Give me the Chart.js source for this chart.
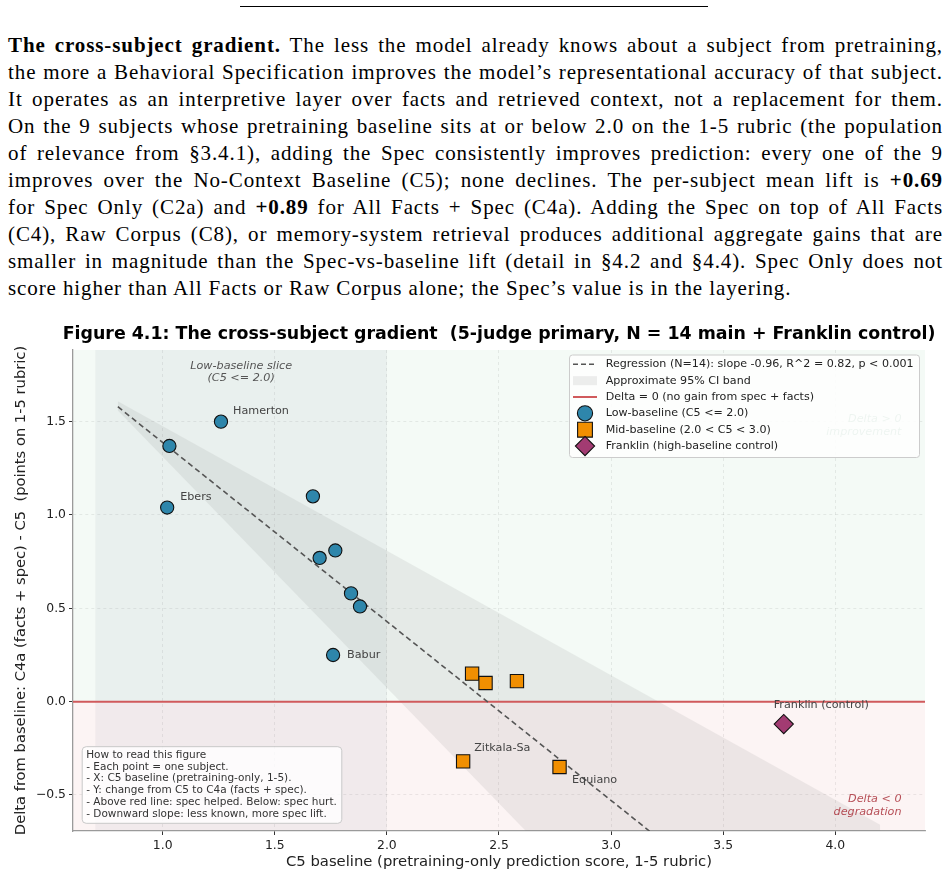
<!DOCTYPE html>
<html>
<head>
<meta charset="utf-8">
<script src="https://cdn.jsdelivr.net/npm/chart.js@4.4.1/dist/chart.umd.min.js"></script>
<style>
  html, body { margin: 0; padding: 0; background: #fff; width: 951px; height: 879px; overflow: hidden; }
  #rule { position: absolute; left: 240px; top: 6px; width: 468px; border-top: 1px solid #000; }
  #para { position: absolute; left: 8px; top: 32px; width: 935px; font-family: "Liberation Serif", serif;
          font-size: 21px; letter-spacing: 0.9px; color: #000; }
  #para div { height: 27px; line-height: 27px; text-align: justify; text-align-last: justify; }
  #para div.last { text-align-last: left; }
  #wrap { position: absolute; left: 0; top: 318px; width: 951px; height: 561px; }
</style>
</head>
<body>
<div id="rule"></div>
<div id="para">
  <div><b>The cross-subject gradient.</b> The less the model already knows about a subject from pretraining,</div>
  <div>the more a Behavioral Specification improves the model’s representational accuracy of that subject.</div>
  <div>It operates as an interpretive layer over facts and retrieved context, not a replacement for them.</div>
  <div>On the 9 subjects whose pretraining baseline sits at or below 2.0 on the 1-5 rubric (the population</div>
  <div>of relevance from §3.4.1), adding the Spec consistently improves prediction: every one of the 9</div>
  <div>improves over the No-Context Baseline (C5); none declines. The per-subject mean lift is <b>+0.69</b></div>
  <div>for Spec Only (C2a) and <b>+0.89</b> for All Facts + Spec (C4a). Adding the Spec on top of All Facts</div>
  <div>(C4), Raw Corpus (C8), or memory-system retrieval produces additional aggregate gains that are</div>
  <div>smaller in magnitude than the Spec-vs-baseline lift (detail in §4.2 and §4.4). Spec Only does not</div>
  <div class="last">score higher than All Facts or Raw Corpus alone; the Spec’s value is in the layering.</div>
</div>
<div id="wrap"><canvas id="canvas"></canvas></div>
<script>
// subjects with C5 <= 2.0
const lowX = [1.26, 1.03, 1.02, 1.67, 1.77, 1.70, 1.84, 1.88, 1.76];
const lowY = [1.50, 1.37, 1.04, 1.10, 0.81, 0.77, 0.58, 0.51, 0.25];
const lowNames = ['Hamerton', '', 'Ebers', '', '', '', '', '', 'Babur'];
// subjects with 2.0 < C5 < 3.0
const midX = [2.38, 2.44, 2.58, 2.34, 2.77];
const midY = [0.15, 0.10, 0.11, -0.32, -0.35];
const midNames = ['', '', '', 'Zitkala-Sa', 'Equiano'];
// high-baseline control
const ctrlX = [3.77];
const ctrlY = [-0.12];
const ctrlNames = ['Franklin (control)'];
// regression fit and approximate CI band (end points)
const fitX = [0.8, 4.2];
const fitY = [1.58, -1.68];
const bandUpper = [1.61, -0.66];
const bandLower = [1.56, -2.65];
const zeroX = [0.6, 4.4];
const zeroY = [0, 0];
const sliceRange = [0.7, 2.0];
const xTicks = [1.0, 1.5, 2.0, 2.5, 3.0, 3.5, 4.0];
const yTicks = [-0.5, 0.0, 0.5, 1.0, 1.5];

const titleText = 'Figure 4.1: The cross-subject gradient  (5-judge primary, N = 14 main + Franklin control)';

const toPts = (xs, ys) => xs.map((v, i) => ({x: v, y: ys[i]}));
const fmt = v => v.toFixed(1).replace('-', '\u2212');

const nameOffsets = {
  'Hamerton': [12, -11], 'Ebers': [13, -10], 'Babur': [14, 0],
  'Zitkala-Sa': [11, -13.5], 'Equiano': [12.5, 13.5], 'Franklin (control)': [-10, -18.5]
};

const legendRows = [
  {kind: 'dash', text: 'Regression (N=14): slope -0.96, R^2 = 0.82, p < 0.001'},
  {kind: 'patch', text: 'Approximate 95% CI band'},
  {kind: 'red', text: 'Delta = 0 (no gain from spec + facts)'},
  {kind: 'circle', text: 'Low-baseline (C5 <= 2.0)'},
  {kind: 'square', text: 'Mid-baseline (2.0 < C5 < 3.0)'},
  {kind: 'diamond', text: 'Franklin (high-baseline control)'}
];

const howTo = [
  'How to read this figure',
  '- Each point = one subject.',
  '- X: C5 baseline (pretraining-only, 1-5).',
  '- Y: change from C5 to C4a (facts + spec).',
  '- Above red line: spec helped. Below: spec hurt.',
  '- Downward slope: less known, more spec lift.'
];

function roundBox(ctx, x, y, w, h, r) {
  ctx.beginPath();
  ctx.moveTo(x + r, y);
  ctx.arcTo(x + w, y, x + w, y + h, r);
  ctx.arcTo(x + w, y + h, x, y + h, r);
  ctx.arcTo(x, y + h, x, y, r);
  ctx.arcTo(x, y, x + w, y, r);
  ctx.closePath();
}

const backdrop = {
  id: 'backdrop',
  beforeDraw(chart) {
    const {ctx, chartArea: a, scales: {x, y}} = chart;
    const y0 = y.getPixelForValue(0);
    ctx.save();
    ctx.fillStyle = 'rgba(46,160,100,0.055)';
    ctx.fillRect(a.left, a.top, a.width, y0 - a.top);
    ctx.fillStyle = 'rgba(200,60,60,0.056)';
    ctx.fillRect(a.left, y0, a.width, a.bottom - y0);
    const s0 = x.getPixelForValue(sliceRange[0]);
    const s1 = x.getPixelForValue(sliceRange[1]);
    ctx.fillStyle = 'rgba(90,110,140,0.075)';
    ctx.fillRect(s0, a.top, s1 - s0, a.height);
    // title, centred over the plot area
    ctx.font = 'bold 17.4px "DejaVu Sans"';
    ctx.fillStyle = '#000';
    ctx.textAlign = 'center';
    ctx.textBaseline = 'middle';
    ctx.fillText(titleText, (a.left + a.right) / 2, a.top - 15.7);
    ctx.restore();
  }
};

const notes = {
  id: 'notes',
  afterDatasetsDraw(chart) {
    const {ctx, chartArea: a, scales: {x, y}} = chart;
    ctx.save();
    // point names
    ctx.font = '11.2px "DejaVu Sans"';
    ctx.fillStyle = '#444';
    ctx.textBaseline = 'middle';
    ctx.textAlign = 'left';
    [lowNames, midNames, ctrlNames].forEach((names, di) => {
      const meta = chart.getDatasetMeta(di);
      names.forEach((n, i) => {
        if (!n) return;
        const el = meta.data[i];
        const off = nameOffsets[n];
        ctx.fillText(n, el.x + off[0], el.y + off[1]);
      });
    });
    // region captions
    ctx.font = 'italic 11.2px "DejaVu Sans"';
    ctx.fillStyle = '#555';
    ctx.textAlign = 'center';
    const cx = x.getPixelForValue((sliceRange[0] + sliceRange[1]) / 2);
    ctx.fillText('Low-baseline slice', cx, a.top + 15.7);
    ctx.fillText('(C5 <= 2.0)', cx, a.top + 28);
    ctx.textAlign = 'right';
    ctx.fillStyle = 'rgba(46,125,79,0.55)';
    ctx.fillText('Delta > 0', a.right - 23.5, a.top + 69.3);
    ctx.fillText('improvement', a.right - 23.5, a.top + 81.9);
    ctx.fillStyle = 'rgba(170,50,60,0.85)';
    ctx.fillText('Delta < 0', a.right - 23.5, a.bottom - 32);
    ctx.fillText('degradation', a.right - 23.5, a.bottom - 19.3);
    ctx.restore();
  },
  afterDraw(chart) {
    const {ctx, chartArea: a} = chart;
    ctx.save();
    // legend
    const lx = a.right - 355.5, ly = a.top + 5;
    roundBox(ctx, lx, ly, 350, 102.5, 3);
    ctx.fillStyle = 'rgba(255,255,255,0.86)';
    ctx.fill();
    ctx.strokeStyle = '#cccccc';
    ctx.lineWidth = 1;
    ctx.stroke();
    ctx.font = '11.1px "DejaVu Sans"';
    ctx.textBaseline = 'middle';
    ctx.textAlign = 'left';
    legendRows.forEach((r, i) => {
      const ry = ly + 9.3 + i * 16.35;
      const hx = lx + 15.5;
      ctx.save();
      if (r.kind === 'dash' || r.kind === 'red') {
        ctx.beginPath();
        ctx.moveTo(hx - 12, ry);
        ctx.lineTo(hx + 12, ry);
        ctx.strokeStyle = r.kind === 'dash' ? '#555' : '#d05a5c';
        ctx.lineWidth = r.kind === 'dash' ? 1.6 : 2;
        ctx.setLineDash(r.kind === 'dash' ? [5, 3] : []);
        ctx.stroke();
      } else if (r.kind === 'patch') {
        ctx.fillStyle = 'rgba(120,120,120,0.13)';
        ctx.fillRect(hx - 12, ry - 4.5, 24, 9);
      } else {
        ctx.beginPath();
        if (r.kind === 'circle') {
          ctx.arc(hx, ry, 7.6, 0, Math.PI * 2);
          ctx.fillStyle = '#2E86AB';
        } else if (r.kind === 'square') {
          ctx.rect(hx - 7.4, ry - 7.4, 14.8, 14.8);
          ctx.fillStyle = '#F18F01';
        } else {
          ctx.moveTo(hx, ry - 9.6); ctx.lineTo(hx + 9.6, ry);
          ctx.lineTo(hx, ry + 9.6); ctx.lineTo(hx - 9.6, ry);
          ctx.closePath();
          ctx.fillStyle = '#A23B72';
        }
        ctx.fill();
        ctx.strokeStyle = '#111';
        ctx.lineWidth = 1.1;
        ctx.stroke();
      }
      ctx.restore();
      ctx.fillStyle = '#222';
      ctx.fillText(r.text, lx + 36.2, ry);
    });
    // how-to box
    const bx = a.left + 9.2, by = a.bottom - 84.3;
    roundBox(ctx, bx, by, 259.6, 76.6, 4);
    ctx.fillStyle = 'rgba(255,255,255,0.82)';
    ctx.fill();
    ctx.strokeStyle = '#c8c8c8';
    ctx.lineWidth = 1;
    ctx.stroke();
    ctx.font = '10.5px "DejaVu Sans"';
    ctx.fillStyle = '#333';
    howTo.forEach((t, i) => ctx.fillText(t, bx + 4, by + 8.3 + i * 11.8));
    ctx.restore();
  }
};

Chart.defaults.font.family = '"DejaVu Sans", sans-serif';

const gridOpts = {color: 'rgba(0,0,0,0.09)', lineWidth: 0.8, tickColor: '#333', tickLength: 4, tickWidth: 1, tickBorderDash: []};
const borderOpts = {color: '#9a9a9a', width: 1.3, dash: [3, 3]};

new Chart(document.getElementById('canvas').getContext('2d'), {
  type: 'scatter',
  data: {
    datasets: [
      {
        label: 'Low-baseline (C5 <= 2.0)', data: toPts(lowX, lowY), order: 0,
        pointStyle: 'circle', pointRadius: 6.6, backgroundColor: '#2E86AB', borderColor: '#111', borderWidth: 1.1
      },
      {
        label: 'Mid-baseline (2.0 < C5 < 3.0)', data: toPts(midX, midY), order: 0,
        pointStyle: 'rect', pointRadius: 9.4, backgroundColor: '#F18F01', borderColor: '#111', borderWidth: 1.1
      },
      {
        label: 'Franklin (high-baseline control)', data: toPts(ctrlX, ctrlY), order: 0,
        pointStyle: 'rectRot', pointRadius: 9.6, backgroundColor: '#A23B72', borderColor: '#111', borderWidth: 1.1
      },
      {
        label: 'Regression', data: toPts(fitX, fitY), order: 1, showLine: true,
        borderColor: '#555', borderWidth: 1.6, borderDash: [5.5, 3.5], pointRadius: 0
      },
      {
        label: 'Delta = 0', data: toPts(zeroX, zeroY), order: 2, showLine: true,
        borderColor: '#d05a5c', borderWidth: 2, pointRadius: 0
      },
      {
        label: 'band upper', data: toPts(fitX, bandUpper), order: 3, showLine: true,
        borderWidth: 0, borderColor: 'rgba(0,0,0,0)', pointRadius: 0
      },
      {
        label: 'band lower', data: toPts(fitX, bandLower), order: 4, showLine: true,
        borderWidth: 0, borderColor: 'rgba(0,0,0,0)', pointRadius: 0,
        fill: '-1', backgroundColor: 'rgba(120,120,120,0.12)'
      }
    ]
  },
  options: {
    responsive: true,
    maintainAspectRatio: false,
    animation: false,
    events: [],
    layout: {padding: {left: 0, right: 26, top: 32, bottom: 0}},
    plugins: {
      legend: {display: false},
      tooltip: {enabled: false},
      title: {display: false}
    },
    scales: {
      x: {
        type: 'linear', min: 0.6, max: 4.4,
        afterBuildTicks: s => { s.ticks = xTicks.map(v => ({value: v})); },
        afterFit: s => { s.height = 48; },
        ticks: {font: {size: 12.4}, color: '#222', padding: 3, maxRotation: 0, autoSkip: false, callback: v => fmt(v)},
        grid: gridOpts,
        border: borderOpts,
        title: {
          display: true, text: 'C5 baseline (pretraining-only prediction score, 1-5 rubric)',
          color: '#222', font: {size: 14.8}, padding: {top: 0, bottom: 8}
        }
      },
      y: {
        type: 'linear', min: -0.693, max: 1.884,
        afterBuildTicks: s => { s.ticks = yTicks.map(v => ({value: v})); },
        afterFit: s => { s.width = 73; },
        ticks: {font: {size: 12.4}, color: '#222', padding: 3, autoSkip: false, callback: v => fmt(v)},
        grid: gridOpts,
        border: borderOpts,
        title: {
          display: true, text: 'Delta from baseline: C4a (facts + spec) - C5  (points on 1-5 rubric)',
          color: '#222', font: {size: 14.7}, padding: {top: 12, bottom: 0}
        }
      }
    }
  },
  plugins: [backdrop, notes]
});
</script>
</body>
</html>
